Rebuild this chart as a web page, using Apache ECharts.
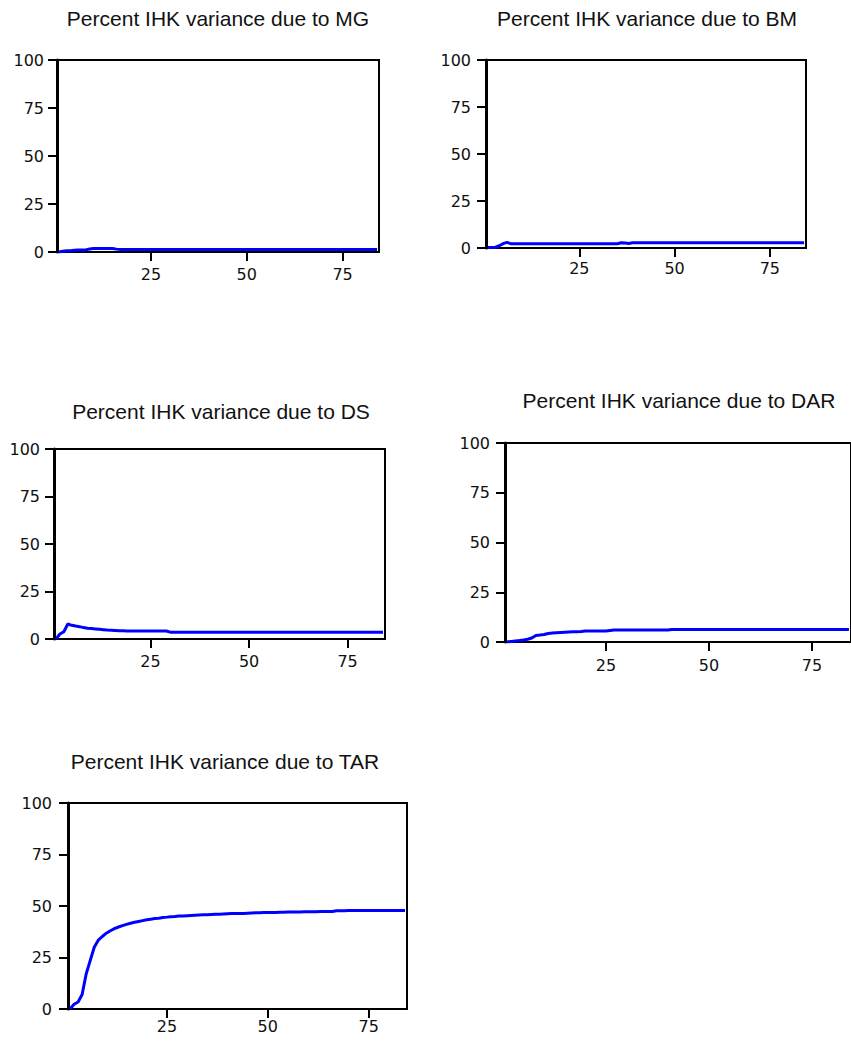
<!DOCTYPE html>
<html>
<head>
<meta charset="utf-8">
<title>Variance decomposition of IHK</title>
<script src="https://cdn.jsdelivr.net/npm/echarts@6/dist/echarts.min.js"></script>
<style>
  html, body { margin: 0; padding: 0; background: #fff; }
  #chart { width: 851px; height: 1042px; }
</style>
</head>
<body>
<div id="chart"></div>
<script>
// percent of IHK forecast error variance, periods 1..84
var mgShare = [
  0.0, 0.4, 0.6, 0.7, 0.9, 1.0, 1.0, 1.1, 1.6, 1.8,
  1.8, 1.8, 1.8, 1.8, 1.8, 1.5, 1.3, 1.3, 1.3, 1.3,
  1.3, 1.3, 1.3, 1.3, 1.3, 1.3, 1.3, 1.3, 1.3, 1.3,
  1.3, 1.3, 1.3, 1.3, 1.3, 1.3, 1.3, 1.3, 1.3, 1.3,
  1.3, 1.3, 1.3, 1.3, 1.3, 1.3, 1.3, 1.3, 1.3, 1.3,
  1.3, 1.3, 1.3, 1.3, 1.3, 1.3, 1.3, 1.3, 1.3, 1.3,
  1.3, 1.3, 1.3, 1.3, 1.3, 1.3, 1.3, 1.3, 1.3, 1.3,
  1.3, 1.3, 1.3, 1.3, 1.3, 1.3, 1.3, 1.3, 1.3, 1.3,
  1.3, 1.3, 1.3, 1.3
];
var bmShare = [
  0.3, 0.3, 0.4, 1.2, 2.3, 3.0, 2.3, 2.2, 2.2, 2.2,
  2.2, 2.2, 2.2, 2.2, 2.2, 2.2, 2.2, 2.2, 2.2, 2.2,
  2.2, 2.2, 2.2, 2.2, 2.2, 2.2, 2.2, 2.2, 2.2, 2.2,
  2.2, 2.2, 2.2, 2.2, 2.3, 2.8, 2.6, 2.4, 2.8, 2.8,
  2.8, 2.8, 2.8, 2.8, 2.8, 2.8, 2.8, 2.8, 2.8, 2.8,
  2.8, 2.8, 2.8, 2.8, 2.8, 2.8, 2.8, 2.8, 2.8, 2.8,
  2.8, 2.8, 2.8, 2.8, 2.8, 2.8, 2.8, 2.8, 2.8, 2.8,
  2.8, 2.8, 2.8, 2.8, 2.8, 2.8, 2.8, 2.8, 2.8, 2.8,
  2.8, 2.8, 2.8, 2.8
];
var dsShare = [
  0.0, 2.6, 3.8, 7.9, 7.2, 6.8, 6.5, 6.0, 5.7, 5.5,
  5.3, 5.1, 4.9, 4.7, 4.6, 4.5, 4.4, 4.3, 4.2, 4.2,
  4.2, 4.2, 4.2, 4.2, 4.2, 4.2, 4.2, 4.2, 4.2, 3.6,
  3.6, 3.6, 3.6, 3.6, 3.6, 3.6, 3.6, 3.6, 3.6, 3.6,
  3.6, 3.6, 3.6, 3.6, 3.6, 3.6, 3.6, 3.6, 3.6, 3.6,
  3.6, 3.6, 3.6, 3.6, 3.6, 3.6, 3.6, 3.6, 3.6, 3.6,
  3.6, 3.6, 3.6, 3.6, 3.6, 3.6, 3.6, 3.6, 3.6, 3.6,
  3.6, 3.6, 3.6, 3.6, 3.6, 3.6, 3.6, 3.6, 3.6, 3.6,
  3.6, 3.6, 3.6, 3.6
];
var darShare = [
  0.0, 0.3, 0.5, 0.7, 1.0, 1.4, 2.0, 3.3, 3.5, 3.8,
  4.3, 4.5, 4.7, 4.8, 4.9, 5.0, 5.1, 5.2, 5.3, 5.5,
  5.5, 5.5, 5.5, 5.5, 5.5, 5.8, 6.0, 6.0, 6.0, 6.0,
  6.0, 6.0, 6.0, 6.0, 6.0, 6.0, 6.0, 6.0, 6.0, 6.0,
  6.3, 6.3, 6.3, 6.3, 6.3, 6.3, 6.3, 6.3, 6.3, 6.3,
  6.3, 6.3, 6.3, 6.3, 6.3, 6.3, 6.3, 6.3, 6.3, 6.3,
  6.3, 6.3, 6.3, 6.3, 6.3, 6.3, 6.3, 6.3, 6.3, 6.3,
  6.3, 6.3, 6.3, 6.3, 6.3, 6.3, 6.3, 6.3, 6.3, 6.3,
  6.3, 6.3, 6.3, 6.3
];
var tarShare = [
  0.0, 2.3, 3.4, 7.0, 17.0, 23.5, 30.0, 33.4, 35.2, 36.8,
  38.0, 39.0, 39.8, 40.5, 41.1, 41.6, 42.1, 42.5, 42.9, 43.3,
  43.6, 43.9, 44.1, 44.4, 44.6, 44.8, 44.9, 45.1, 45.2, 45.3,
  45.4, 45.5, 45.6, 45.7, 45.8, 45.9, 46.0, 46.0, 46.1, 46.2,
  46.3, 46.3, 46.4, 46.4, 46.5, 46.6, 46.7, 46.7, 46.8, 46.8,
  46.9, 46.9, 47.0, 47.0, 47.1, 47.1, 47.1, 47.1, 47.2, 47.2,
  47.2, 47.2, 47.3, 47.3, 47.3, 47.3, 47.7, 47.7, 47.7, 47.8,
  47.8, 47.8, 47.8, 47.8, 47.8, 47.8, 47.8, 47.8, 47.8, 47.8,
  47.8, 47.8, 47.8, 47.8
];

var shocks = ['MG', 'BM', 'DS', 'DAR', 'TAR'];
var yTicks = [0, 25, 50, 75, 100];
var xTicks = [25, 50, 75];

var chart = echarts.init(document.getElementById('chart'), null, { renderer: 'svg' });

// one panel per shock
var panels = [
  { data: mgShare,  grid: { left: 57,  top: 60,  width: 322, height: 192 }, title: [213, 3],   xm: 14, ym: 13 },
  { data: bmShare,  grid: { left: 486, top: 60,  width: 320, height: 188 }, title: [642, 3],   xm: 12, ym: 15 },
  { data: dsShare,  grid: { left: 54,  top: 449, width: 331, height: 190 }, title: [216, 396], xm: 14, ym: 14 },
  { data: darShare, grid: { left: 505, top: 443, width: 350, height: 199 }, title: [674, 385], xm: 15, ym: 15 },
  { data: tarShare, grid: { left: 68,  top: 803, width: 339, height: 206 }, title: [220, 746], xm: 9,  ym: 16 }
];

var option = {
  backgroundColor: '#ffffff',
  animation: false,
  title: [], grid: [], xAxis: [], yAxis: [], series: []
};

panels.forEach(function (p, i) {
  option.title.push({
    text: 'Percent IHK variance due to ' + shocks[i],
    left: p.title[0],
    top: p.title[1],
    textAlign: 'center',
    textStyle: { fontFamily: 'Liberation Sans', fontSize: 21, fontWeight: 'normal', color: '#111' }
  });
  option.grid.push({
    left: p.grid.left, top: p.grid.top, width: p.grid.width, height: p.grid.height,
    show: true, borderColor: '#000', borderWidth: 2, backgroundColor: 'transparent'
  });
  option.xAxis.push({
    type: 'value', gridIndex: i, min: 0.5, max: 84.5,
    axisLine: { show: true, onZero: false, lineStyle: { color: '#000', width: 2 } },
    axisTick: { show: true, length: 9, customValues: xTicks, lineStyle: { color: '#000', width: 2 } },
    axisLabel: { customValues: xTicks, margin: p.xm, color: '#111', fontFamily: 'DejaVu Sans', fontSize: 16 },
    splitLine: { show: false }
  });
  option.yAxis.push({
    type: 'value', gridIndex: i, min: 0, max: 100, interval: 25,
    axisLine: { show: true, lineStyle: { color: '#000', width: 3 } },
    axisTick: { show: true, length: 9, lineStyle: { color: '#000', width: 2 } },
    axisLabel: { margin: p.ym, color: '#111', fontFamily: 'DejaVu Sans', fontSize: 16 },
    splitLine: { show: false }
  });
  option.series.push({
    type: 'line', xAxisIndex: i, yAxisIndex: i,
    data: p.data.map(function (v, k) { return [k + 1, v]; }),
    showSymbol: false, symbol: 'none',
    lineStyle: { color: '#0000ff', width: 3 },
    silent: true
  });
});

chart.setOption(option);
</script>
</body>
</html>
